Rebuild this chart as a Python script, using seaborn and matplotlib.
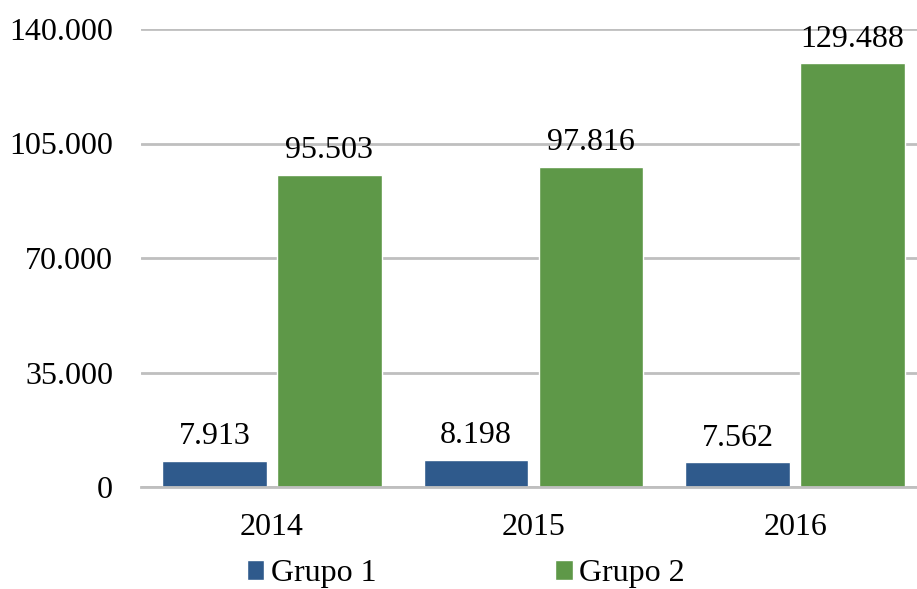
import numpy as np
import matplotlib.pyplot as plt
import seaborn as sns
import pandas as pd

# data
years = ["2014", "2015", "2016"]
grupo1 = [7913, 8198, 7562]
grupo2 = [95503, 97816, 129488]
groups = ["Grupo 1", "Grupo 2"]
yticks = [0, 35000, 70000, 105000, 140000]

df = pd.DataFrame({
    "year": years * 2,
    "value": grupo1 + grupo2,
    "group": [groups[0]] * 3 + [groups[1]] * 3,
})

sns.set_style("white")
plt.rcParams["font.family"] = ["Liberation Serif", "DejaVu Serif"]
plt.rcParams["font.size"] = 23
plt.rcParams["text.color"] = "black"
plt.rcParams["xtick.color"] = "black"
plt.rcParams["ytick.color"] = "black"

fig = plt.figure(figsize=(9.17, 5.89), dpi=100)
ax = fig.add_axes([141 / 917, 102 / 589, 1 - 141 / 917, (487 - 29) / 589])

sns.barplot(data=df, x="year", y="value", hue="group",
            palette=["#2F5A8C", "#5E9848"], width=0.878, gap=0.09,
            saturation=1, ax=ax, legend=True)

def fmt(v):
    return f"{int(v):,}".replace(",", ".")

for c in ax.containers:
    ax.bar_label(c, labels=[fmt(v) for v in c.datavalues], padding=7,
                 fontsize=23, color="black", clip_on=False)

ax.set_ylim(0, 140000)
ax.set_xlim(-0.5, 2.466)
ax.set_yticks(yticks)
ax.set_yticklabels([fmt(v) for v in yticks])
ax.grid(axis="y", color="#BFBFBF", linewidth=2)
ax.set_axisbelow(True)
for s in ["top", "right", "left"]:
    ax.spines[s].set_visible(False)
ax.spines["bottom"].set_color("#BFBFBF")
ax.spines["bottom"].set_linewidth(2)
ax.tick_params(axis="y", length=0, pad=20, labelcolor="black")
ax.tick_params(axis="x", length=0, pad=19, labelcolor="black")
ax.set_xlabel("")
ax.set_ylabel("")

ax.get_legend().remove()
handles, labels = ax.get_legend_handles_labels()
fig.legend(handles, labels, loc="center", bbox_to_anchor=(0.508, 0.026),
           ncol=2, frameon=False, handlelength=0.55, handleheight=0.55,
           handletextpad=0.2, columnspacing=5.6, fontsize=23,
           labelcolor="black")

fig.savefig("out.png", dpi=100)
